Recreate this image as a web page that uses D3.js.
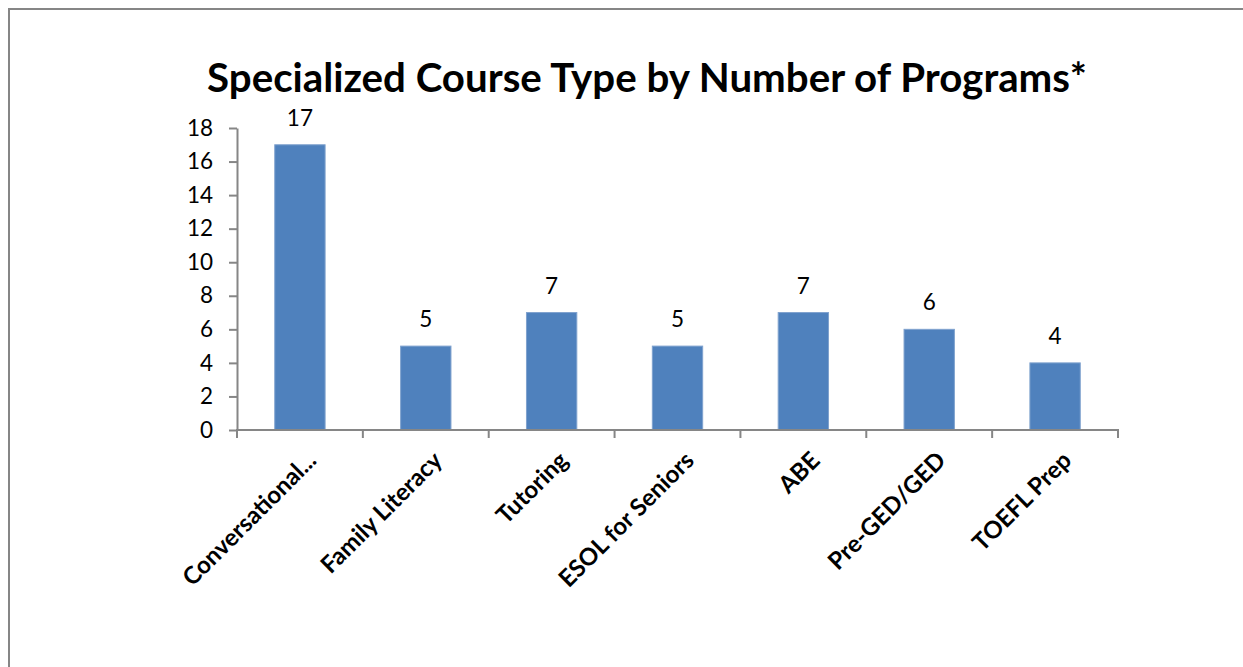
<!DOCTYPE html>
<html><head><meta charset="utf-8">
<script src="https://cdn.jsdelivr.net/npm/d3@7"></script>
<style>html,body{margin:0;padding:0;background:#fff;overflow:hidden}</style>
</head><body>
<svg id="c" width="1243" height="667"></svg>
<script>
const title = "Specialized Course Type by Number of Programs*";
const categories = ["Conversational...", "Family Literacy", "Tutoring", "ESOL for Seniors", "ABE", "Pre-GED/GED", "TOEFL Prep"];
const values = [17, 5, 7, 5, 7, 6, 4];
const yTicks = [0, 2, 4, 6, 8, 10, 12, 14, 16, 18];

(function () {
const svg = d3.select("#c");
const font = "Lato, 'Open Sans', sans-serif";
const axisColor = "#868686";

// outer border (extends past the right and bottom edges)
svg.append("rect").attr("x", 9).attr("y", 9).attr("width", 1260).attr("height", 700)
  .attr("fill", "#fff").attr("stroke", axisColor).attr("stroke-width", 2);

const pLeft = 237, pRight = 1118, pTop = 128, pBottom = 430;
const x = d3.scaleBand().domain(categories).range([pLeft, pRight]).paddingInner(0.6).paddingOuter(0.3);
const xb = d3.scaleBand().domain(categories).range([pLeft, pRight]);
const y = d3.scaleLinear().domain([0, 18]).range([pBottom, pTop]);

// title
const t = svg.append("text").attr("x", 647).attr("y", 92).attr("text-anchor", "middle")
  .attr("font-family", font).attr("font-weight", "bold").attr("font-size", 36).attr("fill", "#000").text(title);
const tw = t.node().getComputedTextLength();
t.attr("font-size", 36 * 880 / tw);

// bars
svg.append("g").selectAll("rect").data(categories).join("rect")
  .attr("x", d => x(d)).attr("width", x.bandwidth())
  .attr("y", (d, i) => y(values[i])).attr("height", (d, i) => y(0) - y(values[i]))
  .attr("fill", "#4F81BD").attr("stroke", "#7FA2CE").attr("stroke-width", 1);

// data labels
svg.append("g").selectAll("text").data(categories).join("text")
  .attr("x", d => x(d) + x.bandwidth() / 2).attr("y", (d, i) => y(values[i]) - 19)
  .attr("text-anchor", "middle").attr("font-family", font).attr("font-size", 22.5).attr("fill", "#000")
  .text((d, i) => values[i]);

// y axis
const ya = svg.append("g").attr("transform", `translate(${pLeft},0)`)
  .call(d3.axisLeft(y).tickValues(yTicks).tickSize(8).tickPadding(16).tickSizeOuter(0));
ya.select(".domain").attr("stroke", axisColor).attr("stroke-width", 2);
ya.selectAll(".tick line").attr("stroke", axisColor).attr("stroke-width", 2);
ya.selectAll(".tick text").attr("font-family", font).attr("font-size", 22.5).attr("fill", "#000");

// x axis line and boundary ticks
const xg = svg.append("g");
xg.append("line").attr("x1", pLeft).attr("x2", pRight).attr("y1", pBottom).attr("y2", pBottom)
  .attr("stroke", axisColor).attr("stroke-width", 2);
const bounds = categories.map(d => xb(d)).concat([pRight]);
xg.selectAll("line.tk").data(bounds).join("line").attr("class", "tk")
  .attr("x1", d => d).attr("x2", d => d).attr("y1", pBottom - 1).attr("y2", pBottom + 8)
  .attr("stroke", axisColor).attr("stroke-width", 2);

// category labels
xg.selectAll("text").data(categories).join("text")
  .attr("transform", d => `translate(${xb(d) + xb.bandwidth() / 2 + 12},${pBottom + 26}) rotate(-45)`)
  .attr("text-anchor", "end").attr("dy", "0.35em")
  .attr("font-family", font).attr("font-weight", "bold").attr("font-size", 24).attr("fill", "#000")
  .text(d => d);
})();
</script>
</body></html>
